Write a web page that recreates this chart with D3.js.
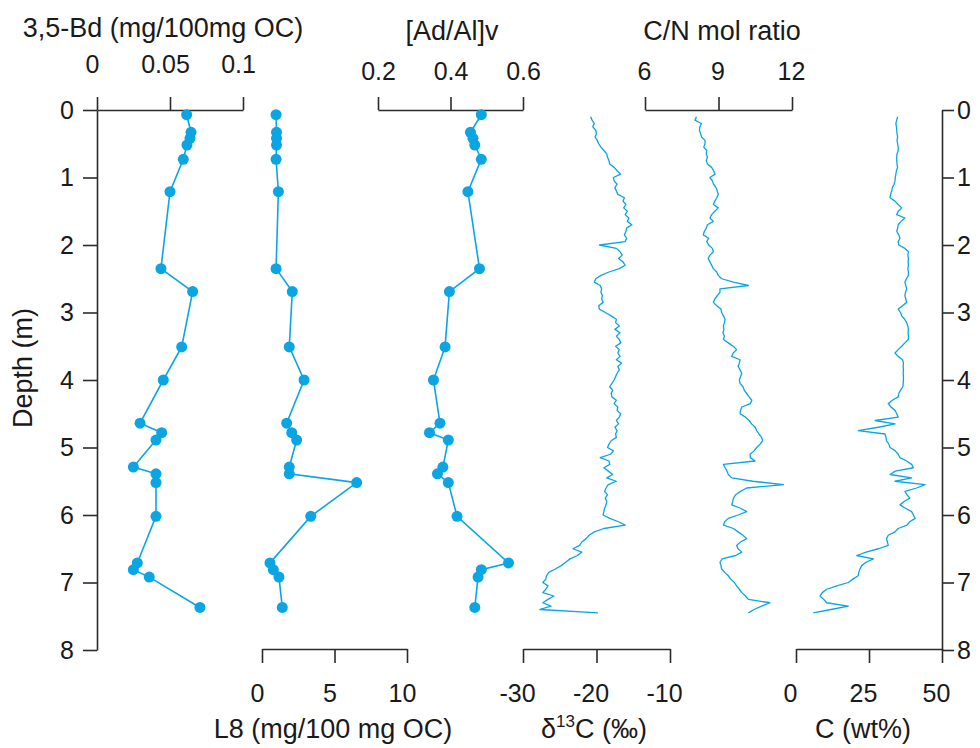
<!DOCTYPE html>
<html><head><meta charset="utf-8">
<script src="https://cdn.jsdelivr.net/npm/d3@7"></script>
<style>body{margin:0;background:#fff}svg{display:block}text{font-family:"Liberation Sans",Arial,sans-serif}</style>
</head><body><svg id="c" width="980" height="748"></svg>
<script>
// ---- biomarker samples (discrete) ----
const bioDepth = [0.07,0.33,0.42,0.52,0.73,1.21,2.35,2.69,3.51,4.00,4.64,4.78,4.89,5.29,5.39,5.52,6.02,6.71,6.81,6.92,7.37];
const bd35 = [0.0614,0.0644,0.0637,0.0616,0.0591,0.0500,0.0438,0.0655,0.0580,0.0454,0.0295,0.0443,0.0404,0.0249,0.0404,0.0404,0.0404,0.0276,0.0249,0.0358,0.0705];
const l8 = [0.97,1.00,1.00,1.00,0.97,1.13,0.97,2.09,1.88,2.90,1.70,2.05,2.39,1.88,1.88,6.53,3.36,0.55,0.78,1.17,1.40];
const adal = [0.485,0.455,0.462,0.467,0.485,0.448,0.480,0.397,0.385,0.353,0.371,0.342,0.394,0.379,0.364,0.394,0.418,0.560,0.485,0.476,0.467];

// ---- bulk core series (continuous) ----
const coreDepth = [
0.10,0.15,0.20,0.25,0.30,0.35,0.40,0.45,0.50,0.55,
0.60,0.65,0.70,0.75,0.80,0.85,0.90,0.95,1.00,1.05,
1.10,1.15,1.20,1.25,1.30,1.35,1.40,1.45,1.50,1.55,
1.60,1.65,1.70,1.75,1.80,1.85,1.90,1.95,2.00,2.05,
2.10,2.15,2.20,2.25,2.30,2.35,2.40,2.45,2.50,2.55,
2.60,2.65,2.70,2.75,2.80,2.85,2.90,2.95,3.00,3.05,
3.10,3.15,3.20,3.25,3.30,3.35,3.40,3.45,3.50,3.55,
3.60,3.65,3.70,3.75,3.80,3.85,3.90,3.95,4.00,4.05,
4.10,4.15,4.20,4.25,4.30,4.35,4.40,4.45,4.50,4.55,
4.60,4.65,4.70,4.75,4.80,4.85,4.90,4.95,5.00,5.05,
5.10,5.15,5.20,5.25,5.30,5.35,5.40,5.45,5.50,5.55,
5.60,5.65,5.70,5.75,5.80,5.85,5.90,5.95,6.00,6.05,
6.10,6.15,6.20,6.25,6.30,6.35,6.40,6.45,6.50,6.55,
6.60,6.65,6.70,6.75,6.80,6.85,6.90,6.95,7.00,7.05,
7.10,7.15,7.20,7.25,7.30,7.35,7.40,7.45];
const d13c = [
-20.8,-20.6,-20.3,-20.5,-20.1,-20.0,-20.2,-19.9,-19.7,-19.4,
-19.0,-18.6,-18.5,-18.3,-18.2,-17.6,-17.2,-16.7,-17.7,-17.6,
-17.2,-17.5,-17.3,-17.1,-16.2,-16.4,-16.0,-16.3,-15.8,-16.1,
-15.6,-15.8,-15.2,-15.9,-16.0,-16.2,-15.9,-16.1,-19.6,-17.3,
-16.8,-16.5,-17.0,-16.4,-16.1,-16.9,-18.3,-19.4,-20.1,-20.3,
-19.5,-19.3,-19.4,-19.2,-19.3,-19.1,-19.7,-19.6,-18.8,-18.0,
-17.3,-17.4,-16.9,-17.5,-16.8,-17.3,-16.9,-16.7,-17.4,-16.9,
-17.1,-16.8,-17.3,-16.6,-17.1,-16.9,-17.2,-17.4,-17.6,-17.9,
-18.2,-17.8,-18.0,-17.9,-17.3,-17.6,-17.1,-17.2,-16.7,-16.9,
-17.3,-17.0,-17.5,-17.2,-17.4,-17.3,-18.0,-18.3,-18.5,-17.7,
-18.1,-19.5,-18.3,-18.2,-19.0,-18.4,-17.8,-18.6,-17.3,-18.4,
-18.7,-18.9,-18.5,-18.8,-18.6,-18.7,-18.9,-19.0,-19.1,-18.2,
-17.0,-16.1,-19.0,-20.3,-21.0,-21.4,-22.0,-22.3,-23.2,-22.0,
-22.6,-23.6,-24.2,-24.8,-25.6,-26.5,-26.8,-26.9,-27.3,-26.6,
-26.9,-27.3,-25.8,-26.6,-27.3,-26.2,-27.7,-19.8];
const cn = [
8.10,8.04,8.30,8.24,8.22,8.27,8.31,8.45,8.45,8.40,
8.52,8.50,8.55,8.50,8.55,8.72,8.80,8.86,8.65,8.75,
8.80,8.90,8.95,8.99,8.93,8.85,8.79,8.99,8.85,8.72,
8.65,8.79,8.55,8.50,8.42,8.38,8.60,8.52,8.60,8.75,
8.79,8.65,8.58,8.65,8.72,8.79,8.93,8.99,9.13,9.61,
10.22,9.06,9.06,8.95,8.85,8.79,8.93,9.10,9.13,9.20,
9.27,9.24,9.20,9.22,9.18,9.24,9.20,9.40,9.60,9.74,
9.60,9.54,9.88,9.85,9.80,9.88,9.95,9.90,9.85,9.88,
10.00,10.05,10.15,10.25,10.36,10.30,9.95,9.90,9.88,10.10,
10.25,10.35,10.50,10.56,10.65,10.76,10.80,10.70,10.56,10.45,
10.29,10.30,10.49,9.20,9.27,9.35,9.40,9.54,10.40,11.65,
10.15,9.90,9.70,9.61,9.58,9.54,9.90,10.15,9.80,9.40,
9.25,9.20,9.61,9.80,10.00,10.15,9.90,9.74,9.80,9.95,
9.70,9.15,9.06,9.10,9.13,9.25,9.40,9.50,9.65,9.74,
9.85,9.95,10.10,10.22,11.10,10.76,10.45,10.22];
const cwt = [
34.8,34.5,34.2,34.4,34.5,34.6,34.8,34.6,34.8,35.0,
35.0,34.6,34.5,34.5,34.6,34.8,34.4,34.2,34.0,33.9,
33.6,33.0,32.8,32.4,32.2,33.9,35.0,36.2,35.0,34.5,
37.3,36.0,35.0,34.8,34.5,35.2,35.6,35.0,35.2,37.3,
38.5,38.3,38.5,38.4,38.5,38.3,38.5,38.5,37.8,37.3,
37.6,37.9,37.5,37.3,37.6,37.9,36.5,35.0,35.8,36.2,
37.2,37.9,38.3,38.5,38.4,38.5,38.5,37.3,36.2,35.0,
33.9,35.0,36.5,36.8,36.7,36.8,36.7,36.8,36.8,36.7,
36.6,35.8,35.2,35.0,33.0,31.6,32.5,33.9,34.5,35.0,
27.1,33.9,28.2,21.3,30.5,30.8,31.0,31.8,32.2,34.0,
35.0,35.6,37.9,39.6,40.2,34.0,32.2,39.6,33.9,44.2,
41.3,37.3,38.0,39.0,37.0,35.6,37.5,39.6,40.2,40.8,
39.0,38.0,35.0,33.9,31.6,31.0,31.3,31.6,28.2,24.0,
20.8,26.5,24.0,22.5,21.9,21.5,21.3,19.5,17.9,14.0,
10.5,9.0,8.2,9.5,10.5,17.9,12.0,5.9];

// ---- tick labels ----
const depthTicks = [0,1,2,3,4,5,6,7,8];
const ticksBd = [0,0.05,0.1];
const ticksL8 = [0,5,10];
const ticksAd = [0.2,0.4,0.6];
const ticksD13 = [-30,-20,-10];
const ticksCN = [6,9,12];
const ticksC = [0,25,50];

const BLUE = "#0AA5E2";
const AX = "#2b2b2b";
const FS = 25, TFS = 27;
const svg = d3.select("#c");

const y = d3.scaleLinear().domain([0,8]).range([110,650]);
const sBd = d3.scaleLinear().domain([0,0.1]).range([97,243]);
const sL8 = d3.scaleLinear().domain([0,10]).range([262,407]);
const sAd = d3.scaleLinear().domain([0.2,0.6]).range([378,523]);
const sD13 = d3.scaleLinear().domain([-30,-10]).range([523,670]);
const sCN = d3.scaleLinear().domain([6,12]).range([645,792]);
const sC = d3.scaleLinear().domain([0,50]).range([796,942]);

function style(g){
  g.selectAll(".domain").attr("stroke",AX).attr("stroke-width",1.6);
  g.selectAll(".tick line").attr("stroke",AX).attr("stroke-width",1.6);
  g.selectAll(".tick text").attr("fill","#1a1a1a").style("font-size",FS+"px").style("font-family",'"Liberation Sans",Arial,sans-serif');
}
const fmt = d => String(d);

// depth axes
const gl = svg.append("g").attr("transform","translate(97,0)")
  .call(d3.axisLeft(y).tickValues(depthTicks).tickFormat(fmt).tickSizeInner(14).tickSizeOuter(0).tickPadding(9));
style(gl);
const gr = svg.append("g").attr("transform","translate(942,0)")
  .call(d3.axisRight(y).tickValues(depthTicks).tickFormat(fmt).tickSizeInner(12).tickSizeOuter(0).tickPadding(3));
style(gr);

// top axes
function topAxis(scale, ticks, baseline, dx){
  const g = svg.append("g").attr("transform","translate(0,110)")
    .call(d3.axisTop(scale).tickValues(ticks).tickFormat(fmt).tickSizeInner(13).tickSizeOuter(0));
  style(g);
  g.selectAll(".tick text").attr("y", baseline-110).attr("dy","0").attr("dx", dx);
  return g;
}
function bottomAxis(scale, ticks, dx){
  const g = svg.append("g").attr("transform","translate(0,649)")
    .call(d3.axisBottom(scale).tickValues(ticks).tickFormat(fmt).tickSizeInner(14).tickSizeOuter(0));
  style(g);
  g.selectAll(".tick text").attr("y", 702-649).attr("dy","0").attr("dx", dx);
  return g;
}
topAxis(sBd, ticksBd, 73, -5);
topAxis(sAd, ticksAd, 80, 0);
topAxis(sCN, ticksCN, 80, -1);
bottomAxis(sL8, ticksL8, -5);
bottomAxis(sD13, ticksD13, -6);
bottomAxis(sC, ticksC, -6);

// titles
function title(x, yy, txt){
  return svg.append("text").attr("x",x).attr("y",yy).attr("text-anchor","middle")
    .style("font-size",TFS+"px").attr("fill","#1a1a1a").text(txt);
}
title(163, 37, "3,5-Bd (mg/100mg OC)");
title(452, 40, "[Ad/Al]v");
title(722, 40, "C/N mol ratio");
title(333, 738, "L8 (mg/100 mg OC)");
title(863, 738, "C (wt%)");
const t13 = svg.append("text").attr("x",594).attr("y",738).attr("text-anchor","middle")
  .style("font-size",TFS+"px").attr("fill","#1a1a1a");
t13.append("tspan").text("\u03B4");
t13.append("tspan").attr("dy",-11).style("font-size","17px").text("13");
t13.append("tspan").attr("dy",11).text("C (\u2030)");
svg.append("text").attr("transform","translate(32,368) rotate(-90)").attr("text-anchor","middle")
  .style("font-size",TFS+"px").attr("fill","#1a1a1a").text("Depth (m)");

// discrete biomarker panels
function bioPanel(scale, vals){
  const pts = bioDepth.map((d,i)=>({d, v: vals[i]}));
  svg.append("path").datum(pts)
    .attr("d", d3.line().x(p=>scale(p.v)).y(p=>y(p.d)))
    .attr("fill","none").attr("stroke",BLUE).attr("stroke-width",1.6);
  svg.append("g").selectAll("circle").data(pts).join("circle")
    .attr("cx",p=>scale(p.v)).attr("cy",p=>y(p.d)).attr("r",5.5).attr("fill",BLUE);
}
bioPanel(sBd, bd35);
bioPanel(sL8, l8);
bioPanel(sAd, adal);

// continuous panels
function linePanel(scale, vals){
  const pts = coreDepth.map((d,i)=>({d, v: vals[i]}));
  svg.append("path").datum(pts)
    .attr("d", d3.line().x(p=>scale(p.v)).y(p=>y(p.d)))
    .attr("fill","none").attr("stroke",BLUE).attr("stroke-width",1.3).attr("stroke-linejoin","round");
}
linePanel(sD13, d13c);
linePanel(sCN, cn);
linePanel(sC, cwt);
</script></body></html>
